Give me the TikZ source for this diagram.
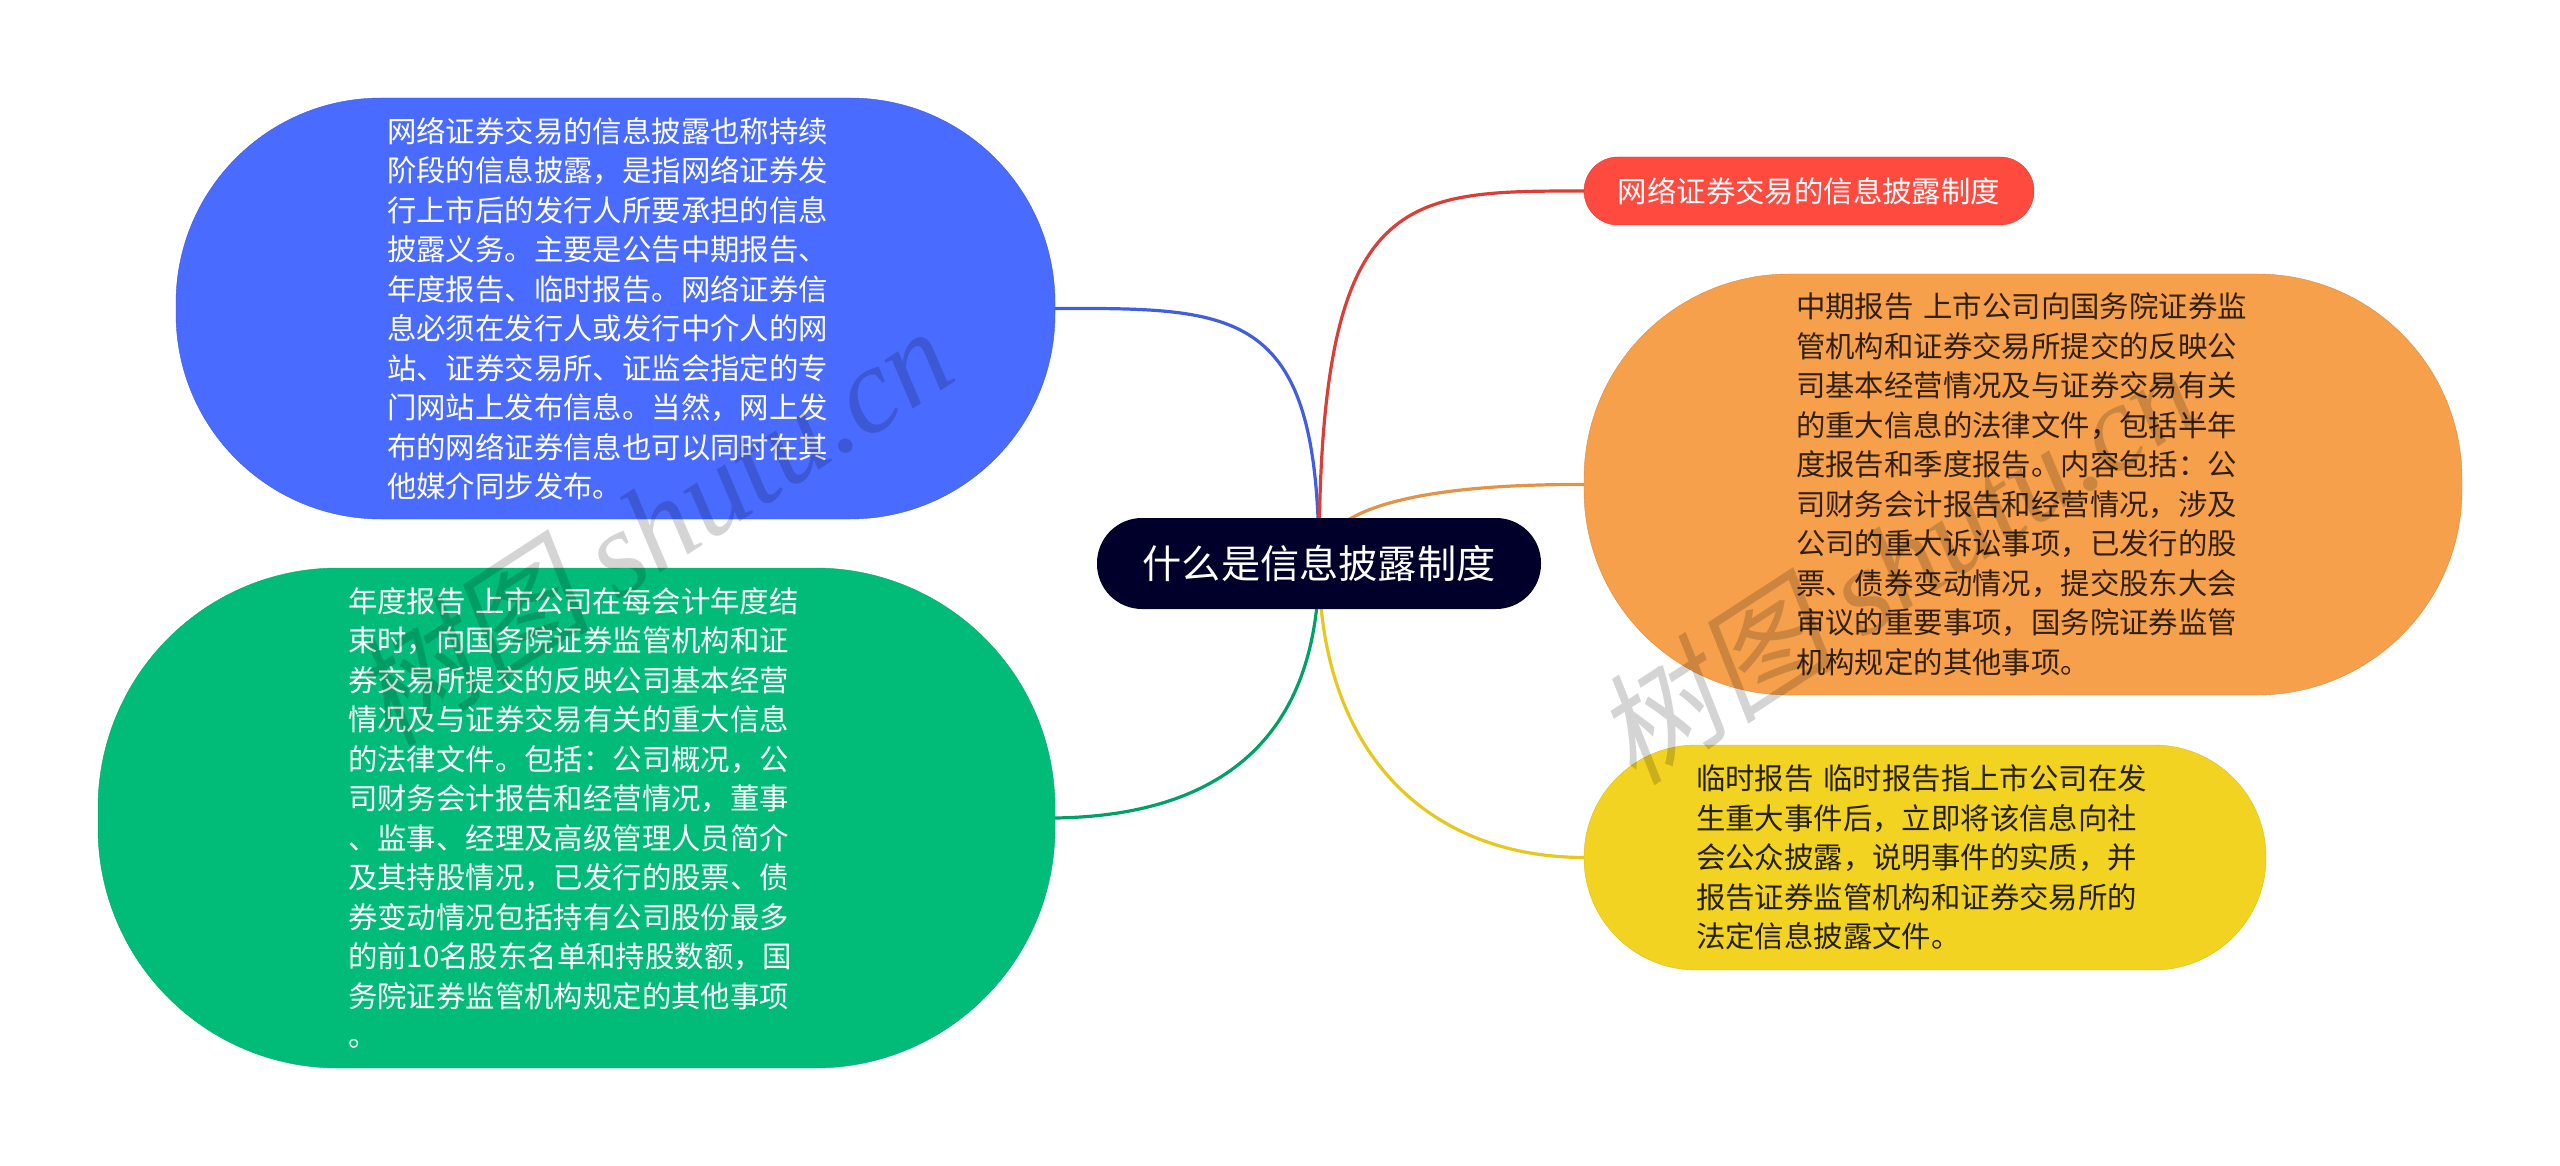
\documentclass[tikz,border=0pt]{standalone}
\usepackage{fontspec}
\setmainfont{Noto Sans CJK SC}
\newfontfamily\wmlatin{Liberation Serif Italic}
\newfontfamily\wmcjk[FakeSlant=0.2]{Noto Sans CJK SC}
\usetikzlibrary{backgrounds}
\definecolor{rootcol}{HTML}{00002B}
\definecolor{bluecol}{HTML}{4A6BFF}
\definecolor{greencol}{HTML}{00BC78}
\definecolor{redcol}{HTML}{FF4A40}
\definecolor{orangecol}{HTML}{F6A04C}
\definecolor{yellowcol}{HTML}{F2D321}
\tikzset{
	pill/.style={anchor=center,align=left,inner sep=0pt,font=\fontsize{29.4pt}{39.5pt}\selectfont},
	wm/.style={text=black,opacity=.17,rotate=33,inner sep=0pt,font=\fontsize{122pt}{122pt}\selectfont},
	link/.style={line width=3.2pt}
}
\begin{document}
\begin{tikzpicture}[x=1pt,y=-1pt]
	\useasboundingbox (0,0) rectangle (2560,1166);
	\node[pill,fill=rootcol,text=white,rounded corners=45pt,minimum width=444pt,minimum height=91pt,align=center,font=\fontsize{39.2pt}{44pt}\selectfont] (root) at (1319,563.5) {什么是信息披露制度};
	\node[pill,fill=bluecol,draw=bluecol!85!black,text=white,rounded corners=205pt,minimum width=879pt,minimum height=421pt,text width=457pt] (period) at (615.5,308.5) {网络证券交易的信息披露也称持续\\
		阶段的信息披露，是指网络证券发\\
		行上市后的发行人所要承担的信息\\
		披露义务。主要是公告中期报告、\\
		年度报告、临时报告。网络证券信\\
		息必须在发行人或发行中介人的网\\
		站、证券交易所、证监会指定的专\\
		门网站上发布信息。当然，网上发\\
		布的网络证券信息也可以同时在其\\
		他媒介同步发布。};
	\node[pill,fill=greencol,draw=greencol!90!black,text=white,rounded corners=240pt,minimum width=957pt,minimum height=500pt,text width=457pt] (annual) at (576.5,818) {年度报告 上市公司在每会计年度结\\
		束时，向国务院证券监管机构和证\\
		券交易所提交的反映公司基本经营\\
		情况及与证券交易有关的重大信息\\
		的法律文件。包括：公司概况，公\\
		司财务会计报告和经营情况，董事\\
		、监事、经理及高级管理人员简介\\
		及其持股情况，已发行的股票、债\\
		券变动情况包括持有公司股份最多\\
		的前10名股东名单和持股数额，国\\
		务院证券监管机构规定的其他事项\\
		。};
	\node[pill,fill=redcol,draw=redcol!85!black,text=white,rounded corners=34pt,minimum width=450pt,minimum height=68pt,align=center] (system) at (1809,191) {网络证券交易的信息披露制度};
	\node[pill,fill=orangecol,draw=orangecol!88!black,text=black!80!orangecol,rounded corners=205pt,minimum width=878pt,minimum height=421pt,text width=454pt] (midterm) at (2023,484.5) {中期报告 上市公司向国务院证券监\\
		管机构和证券交易所提交的反映公\\
		司基本经营情况及与证券交易有关\\
		的重大信息的法律文件，包括半年\\
		度报告和季度报告。内容包括：公\\
		司财务会计报告和经营情况，涉及\\
		公司的重大诉讼事项，已发行的股\\
		票、债券变动情况，提交股东大会\\
		审议的重要事项，国务院证券监管\\
		机构规定的其他事项。};
	\node[pill,fill=yellowcol,draw=yellowcol!90!black,text=black!85!yellowcol,rounded corners=112pt,minimum width=682pt,minimum height=225pt,text width=458pt] (interim) at (1925,857.5) {临时报告 临时报告指上市公司在发\\
		生重大事件后，立即将该信息向社\\
		会公众披露，说明事件的实质，并\\
		报告证券监管机构和证券交易所的\\
		法定信息披露文件。};
	\begin{scope}[on background layer]
		\draw[link,bluecol!88!black] (root.center) .. controls (1319,308) and (1240,308) .. (period.east);
		\draw[link,redcol!85!black] (root.center) .. controls (1319,191) and (1400,191) .. (system.west);
		\draw[link,orangecol!92!black] (root.center) .. controls (1319,505) and (1430,484) .. (midterm.west);
		\draw[link,greencol!85!black] (root.center) .. controls (1319,760) and (1195,816) .. (annual.east);
		\draw[link,yellowcol!95!black] (root.center) .. controls (1319,750) and (1425,857) .. (interim.west);
	\end{scope}
	\node[wm] (wmleft) at (650,525) {{\wmcjk 树图} {\wmlatin shutu.cn}};
	\node[wm] (wmright) at (1895,563) {{\wmcjk 树图} {\wmlatin shutu.cn}};
\end{tikzpicture}
\end{document}
